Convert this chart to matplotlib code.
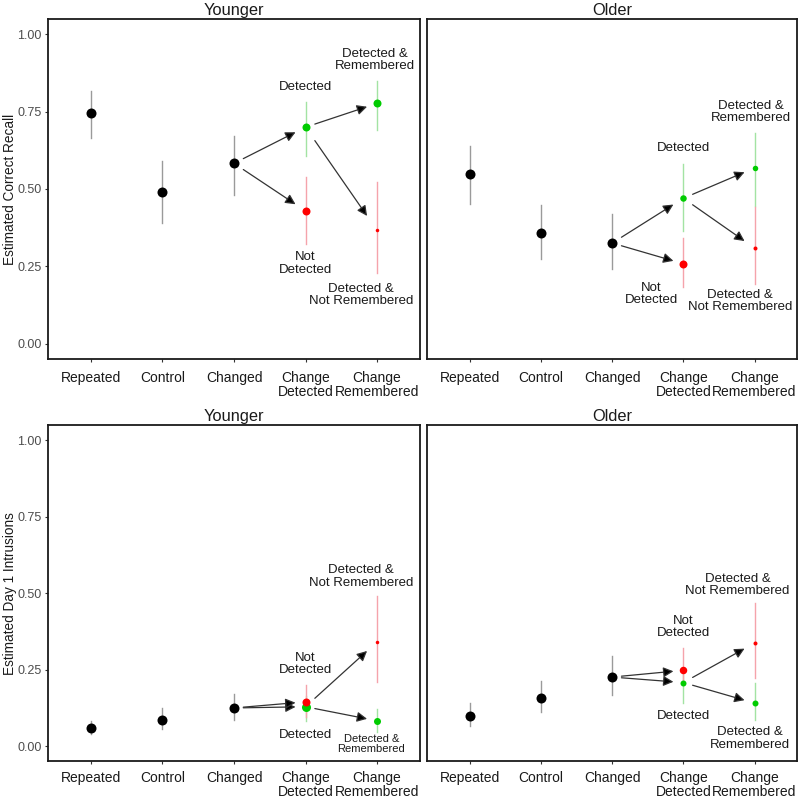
import matplotlib
matplotlib.use("Agg")
import matplotlib.pyplot as plt

plt.rcParams['font.family'] = ['Liberation Sans', 'DejaVu Sans']

# Categories on the x axis
categories = ["Repeated", "Control", "Changed", "Change\nDetected", "Change\nRemembered"]

# Conditions plotted (in drawing order) and the category each belongs to
conditions = ["Repeated", "Control", "Changed", "Detected", "Not Detected",
              "Detected & Remembered", "Detected & Not Remembered"]
cond_category = ["Repeated", "Control", "Changed", "Change\nDetected", "Change\nDetected",
                 "Change\nRemembered", "Change\nRemembered"]
cond_kind = ["base", "base", "base", "yes", "no", "yes", "no"]

# Younger - correct recall
young_recall_est = [0.746, 0.491, 0.583, 0.700, 0.429, 0.777, 0.366]
young_recall_lo = [0.666, 0.390, 0.482, 0.606, 0.323, 0.690, 0.227]
young_recall_hi = [0.816, 0.590, 0.673, 0.781, 0.539, 0.849, 0.522]

# Older - correct recall
old_recall_est = [0.548, 0.356, 0.325, 0.470, 0.258, 0.568, 0.309]
old_recall_lo = [0.453, 0.274, 0.242, 0.364, 0.184, 0.445, 0.191]
old_recall_hi = [0.639, 0.448, 0.420, 0.582, 0.341, 0.682, 0.442]

# Younger - day 1 intrusions
young_intr_est = [0.059, 0.087, 0.125, 0.129, 0.145, 0.083, 0.341]
young_intr_lo = [0.041, 0.057, 0.086, 0.084, 0.095, 0.048, 0.211]
young_intr_hi = [0.084, 0.125, 0.170, 0.165, 0.200, 0.122, 0.491]

# Older - day 1 intrusions
old_intr_est = [0.098, 0.156, 0.226, 0.208, 0.248, 0.141, 0.337]
old_intr_lo = [0.066, 0.111, 0.168, 0.140, 0.208, 0.086, 0.224]
old_intr_hi = [0.141, 0.213, 0.296, 0.250, 0.321, 0.208, 0.467]

# arrows: (from condition, to condition)
arrows = [("Changed", "Detected"), ("Changed", "Not Detected"),
          ("Detected", "Detected & Remembered"), ("Detected", "Detected & Not Remembered")]

# ---- styles ----
dot_color = {"base": "black", "yes": "#00cc00", "no": "#ff0000"}
bar_color = {"base": "#9a9a9a", "yes": "#a3e3a3", "no": "#f5a3ab"}
# dot diameters in pixels, per panel
dot_px = {
    "tl": [10, 10, 10, 8, 8, 8, 3.5],
    "tr": [10, 10, 10, 6.5, 8, 5.5, 4],
    "bl": [10, 10, 10, 9, 8, 7, 3.5],
    "br": [10, 10, 10, 6, 7.5, 6, 4],
}
# annotation labels: (text, x, y, fontsize)
labels = {
    "tl": [("Detected", 4.0, 0.83, 9.5), ("Detected &\nRemembered", 4.97, 0.917, 9.5),
           ("Not\nDetected", 4.0, 0.259, 9.5), ("Detected &\nNot Remembered", 4.78, 0.157, 9.5)],
    "tr": [("Detected", 4.0, 0.633, 9.5), ("Detected &\nRemembered", 4.95, 0.749, 9.5),
           ("Not\nDetected", 3.55, 0.16, 9.5), ("Detected &\nNot Remembered", 4.8, 0.137, 9.5)],
    "bl": [("Not\nDetected", 4.0, 0.269, 9.5), ("Detected", 4.0, 0.035, 9.5),
           ("Detected &\nNot Remembered", 4.78, 0.554, 9.5), ("Detected &\nRemembered", 4.92, 0.007, 8)],
    "br": [("Not\nDetected", 4.0, 0.389, 9.5), ("Detected", 4.0, 0.098, 9.5),
           ("Detected &\nNot Remembered", 4.76, 0.527, 9.5), ("Detected &\nRemembered", 4.93, 0.025, 9.5)],
}

fig = plt.figure(figsize=(8, 8.02), dpi=100)

panels = [
    ("tl", [0.060, 0.5524, 0.465, 0.4239], "Younger", young_recall_est, young_recall_lo, young_recall_hi, "Estimated Correct Recall"),
    ("tr", [0.534, 0.5524, 0.4625, 0.4239], "Older", old_recall_est, old_recall_lo, old_recall_hi, None),
    ("bl", [0.060, 0.0505, 0.465, 0.4196], "Younger", young_intr_est, young_intr_lo, young_intr_hi, "Estimated Day 1 Intrusions"),
    ("br", [0.534, 0.0505, 0.4625, 0.4196], "Older", old_intr_est, old_intr_lo, old_intr_hi, None),
]

xpos = [categories.index(c) + 1 for c in cond_category]

for key, rect, title, est, lo, hi, ylabel in panels:
    ax = fig.add_axes(rect)
    # error bars + dots
    for i in range(len(conditions)):
        kind = cond_kind[i]
        ax.plot([xpos[i], xpos[i]], [lo[i], hi[i]], color=bar_color[kind], lw=1.0, zorder=2)
    for i in range(len(conditions)):
        kind = cond_kind[i]
        ax.plot(xpos[i], est[i], 'o', color=dot_color[kind], mec='none',
                ms=dot_px[key][i] / 1.389, zorder=3)

    # arrows between conditions
    for a, b in arrows:
        ia, ib = conditions.index(a), conditions.index(b)
        x0, y0, x1, y1 = xpos[ia], est[ia], xpos[ib], est[ib]
        t0, t1 = 0.13, 0.86
        sx, sy = x0 + t0 * (x1 - x0), y0 + t0 * (y1 - y0)
        ex, ey = x0 + t1 * (x1 - x0), y0 + t1 * (y1 - y0)
        ax.annotate("", xy=(ex, ey), xytext=(sx, sy),
                    arrowprops=dict(arrowstyle='-|>', color='#333333', lw=0.9,
                                    mutation_scale=15, shrinkA=0, shrinkB=0,
                                    fc='black'), zorder=4)

    for text, lx, ly, fs in labels[key]:
        ax.text(lx, ly, text, ha='center', va='center', fontsize=fs,
                color='#1a1a1a', linespacing=1.05, zorder=5)

    ax.set_xlim(0.4, 5.6)
    ax.set_ylim(-0.05, 1.05)
    ax.set_xticks(range(1, 6))
    ax.set_xticklabels(categories, fontsize=10, color='#1a1a1a', linespacing=1.02)
    ax.set_yticks([0, 0.25, 0.5, 0.75, 1.0])
    ax.tick_params(axis='both', length=2.5, width=0.8, color='#333333', pad=2)
    ax.tick_params(axis='x', pad=6 if key in ("tl", "tr") else 4.5)
    if ylabel:
        ax.set_yticklabels(["0.00", "0.25", "0.50", "0.75", "1.00"], fontsize=9, color='#4d4d4d')
        ax.set_ylabel(ylabel, fontsize=9.8, color='#1a1a1a')
        ax.yaxis.set_label_coords(-0.083, 0.5)
    else:
        ax.tick_params(axis='y', left=False, labelleft=False)
    for s in ax.spines.values():
        s.set_linewidth(1.3)
        s.set_color('#1a1a1a')
    ax.set_title(title, fontsize=11.8, color='#1a1a1a', pad=3)

fig.savefig("out.png", dpi=100)
